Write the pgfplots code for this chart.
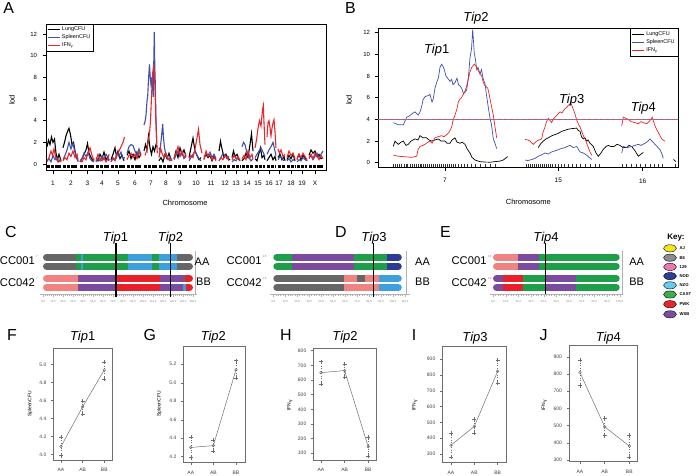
\documentclass[border=0pt]{standalone}
\usepackage{pgfplots}
\pgfplotsset{compat=1.18}
\usepackage{fontspec}
\setmainfont{Liberation Sans}
\definecolor{rblue}{HTML}{3F51A8}
\definecolor{rred}{HTML}{E8262B}
\definecolor{cgray}{HTML}{666666}
\definecolor{cgreen}{HTML}{1F9E4A}
\definecolor{cltblue}{HTML}{3D9FDB}
\definecolor{cpink}{HTML}{F08282}
\definecolor{cpurple}{HTML}{7A4B9F}
\definecolor{cred}{HTML}{E8202A}
\definecolor{cnavy}{HTML}{2C3C94}
\definecolor{kAJ}{HTML}{F4E41C}
\definecolor{kB6}{HTML}{8C8C8C}
\definecolor{kot}{HTML}{E97BB3}
\definecolor{kNOD}{HTML}{2E3D96}
\definecolor{kNZO}{HTML}{66CCEA}
\definecolor{kCAST}{HTML}{3DAE4B}
\definecolor{kPWK}{HTML}{E8262A}
\definecolor{kWSB}{HTML}{7B4CA0}
\definecolor{effgray}{HTML}{6E6E6E}
\newcommand{\fs}[1]{\fontsize{#1}{#1}\selectfont}
\newcommand{\seg}[4]{\addplot[#1, line width=7bp, line cap=butt, forget plot] coordinates {(#2,#4) (#3,#4)};}
\newcommand{\rcap}[4]{\addplot[#1, line width=7bp, line cap=round, forget plot] coordinates {(#2,#4) (#3,#4)};}
\newcommand{\tip}[1]{\textit{Tip}#1}
\pgfplotsset{
  rplot/.style={scale only axis, anchor=north west, tick align=outside, xtick pos=left, ytick pos=left,
    major tick length=3.5bp, tick style={black, line width=0.5bp}, axis line style={line width=0.5bp},
    /pgf/number format/assume math mode=true, unbounded coords=jump, legend cell align=left,
    legend image code/.code={\draw[##1, line width=1bp] (0bp,0bp) -- (12bp,0bp);}},
  eff/.style={scale only axis, anchor=north west, tick align=outside, xtick pos=left, ytick pos=left,
    major tick length=2.5bp, tick style={effgray, line width=0.4bp}, axis line style={effgray, line width=0.5bp},
    ticklabel style={font=\fs{5}, text=black!75}, /pgf/number format/assume math mode=true,
    xtick={1,2,3}, xticklabels={AA,AB,BB}, xticklabel style={yshift=-2bp}, yticklabel style={xshift=-1bp},
    unbounded coords=jump, clip=false},
  bars/.style={scale only axis, anchor=north west, ymin=-294, ymax=-250, axis x line*=bottom, axis y line=none,
    x axis line style={gray!60, line width=0.4bp}, tick style={gray!60, line width=0.3bp},
    major tick length=3bp, minor tick length=1.8bp, tick align=outside, minor x tick num=4,
    xticklabel style={font=\fs{2.8}, text=gray, /pgf/number format/fixed, /pgf/number format/fixed zerofill, /pgf/number format/precision=1},
    /pgf/number format/assume math mode=true, clip=false},
  effm/.style={effgray, line width=0.5bp, mark=o, mark size=1.3bp, mark options={solid}},
  effse/.style={effgray, line width=0.5bp, dotted, mark=+, mark size=2bp, mark options={solid}},
}
\begin{document}
\begin{tikzpicture}
\path[use as bounding box] (0bp,0bp) rectangle (696bp,-476bp);
% panel letters
\foreach \l/\x/\y in {A/3.3/13.5, B/345/13.5, C/5/237, D/335/237, E/440/237, F/7/340, G/143.3/340, H/280/340, I/411.7/340, J/539.5/340}
  \node[anchor=base west, inner sep=0, font=\fs{16}] at (\x bp,-\y bp) {\l};

% ================= A =================
\begin{axis}[rplot, at={(46bp,-24bp)}, width=280bp, height=146bp,
  xmin=46, xmax=326, ymin=-0.55, ymax=12.93, ytick={0,2,4,6,8,10,12},
  xtick={53,71,87.5,102,118,135,151,166,180,196,211,225,236,247,258,269,279,291,302,315},
  xticklabels={1,2,3,4,5,6,7,8,9,10,11,12,13,14,15,16,17,18,19,X},
  yticklabel style={font=\fs{6}, xshift=-2bp}, xticklabel style={font=\fs{6.5}, yshift=-4bp},
  legend style={at={(0,1)}, anchor=north west, draw=black, line width=0.4bp, font=\fs{5.5}, inner sep=0.8bp, row sep=-1.5bp, fill=white}]
\addplot[black, line width=1.1bp] coordinates {
(47,1.6)(48.5,2.2)(50,1.8)(51.5,2.5)(53,2.0)(54.5,2.3)(56,1.0)(57.5,0.4)(59,0.9)(61,0.3)(62,nan)
(63,1.5)(64.5,2.0)(66,2.6)(67.5,3.0)(69,3.3)(70.5,2.7)(72,1.8)(73.5,2.0)(75,1.2)(76.5,0.6)(78,0.3)(79,nan)
(80,0.2)(82,0.5)(84,0.9)(86,1.3)(87.5,1.9)(89,1.0)(91,0.6)(93,0.3)(94,0.5)(95,nan)
(96,0.6)(98,0.3)(100,0.9)(102,0.5)(104,1.1)(106,0.4)(108,0.7)(109,0.3)(110,nan)
(111,0.4)(113,0.9)(115,1.5)(116.5,0.7)(118,1.2)(120,0.5)(122,0.8)(124,0.3)(125,nan)
(127,0.8)(129,1.2)(131,0.5)(133,0.9)(135,0.4)(137,1.1)(139,0.6)(141,0.9)(142,nan)
(144,1.2)(145.5,1.8)(147,1.3)(148.5,2.6)(150,1.5)(151.5,0.9)(153,1.6)(154.5,1.2)(156,1.8)(157,1.6)(158,nan)
(159,0.3)(161,0.6)(163,0.2)(165,0.9)(167,0.5)(169,1.0)(171,0.4)(172.5,nan)
(174,0.5)(176,1.2)(178,0.6)(180,1.5)(182,0.9)(184,1.3)(186,0.7)(187.5,nan)
(189,0.6)(191,1.5)(193,2.4)(195,1.2)(197,0.8)(199,0.4)(201,0.6)(202.5,nan)
(204,0.5)(206,0.9)(208,0.6)(210,0.8)(212,0.3)(214,0.7)(216,0.4)(217.5,nan)
(219,1.2)(220.5,2.1)(222,1.4)(224,0.6)(226,0.9)(228,0.5)(230,0.4)(231,nan)
(232,0.6)(233.5,1.2)(235,0.7)(237,0.9)(239,0.4)(240,0.3)(241,nan)
(242,0.3)(244,0.5)(246,1.0)(248,0.6)(250,1.8)(251.5,2.8)(253,1.2)(254,nan)
(255,0.5)(257,0.3)(259,1.0)(260.5,1.5)(262,0.6)(264,0.8)(265,0.4)(266,nan)
(267,0.3)(269,0.6)(271,0.9)(273,0.4)(275,0.7)(276,0.3)(277,nan)
(278,0.6)(280,0.9)(282,0.4)(284,0.7)(285,0.3)(286,nan)
(287,0.4)(289,0.8)(291,0.5)(293,0.9)(295,0.3)(296,nan)
(297,0.5)(299,0.9)(301,0.4)(303,0.8)(305,0.6)(307,0.3)(308,nan)
(309,0.8)(311,1.3)(313,1.0)(315,1.2)(317,0.7)(319,0.9)(321,0.5)(323,0.6)};
\addlegendentry{LungCFU}
\addplot[rblue, line width=1.1bp] coordinates {
(47,0.3)(49,0.5)(51,0.2)(53,0.8)(55,0.4)(57,0.6)(59,0.2)(61,0.4)(62,nan)
(63,0.4)(65,0.8)(67,1.3)(69,2.0)(71,1.4)(73,1.9)(75,1.1)(77,0.5)(78,0.2)(79,nan)
(80,0.3)(82,0.5)(84,1.0)(86,0.7)(88,1.1)(90,0.5)(92,0.3)(94,0.2)(95,nan)
(96,0.2)(98,0.5)(100,0.3)(102,0.7)(104,0.4)(106,0.9)(108,0.6)(109,0.4)(110,nan)
(111,0.2)(113,0.6)(115,0.4)(117,1.0)(119,0.7)(121,1.1)(123,0.5)(125,0.6)(126,nan)
(127,1.0)(129,1.6)(131,1.8)(133,1.7)(135,1.2)(137,0.8)(139,1.4)(141,0.9)(142,nan)
(144,3.6)(145,3.9)(146,4.5)(147,5.8)(147.7,6.3)(148.5,7.8)(149.5,9.2)(150.3,7.9)(151,7.3)(151.8,8.0)(152.5,7.2)(153.2,6.2)(153.8,9.5)(154.3,12.2)(154.8,9.0)(155.3,7.5)(156,4.0)(156.7,2.0)(158,nan)
(159,1.5)(160,1.2)(161,2.1)(162,3.0)(162.7,3.7)(163.5,2.4)(164.5,1.5)(166,0.8)(168,0.4)(170,0.6)(172,0.3)(172.5,nan)
(174,0.4)(176,0.8)(178,1.2)(180,0.7)(182,1.0)(184,0.5)(186,0.7)(187.5,nan)
(189,0.3)(191,0.6)(193,0.9)(195,1.2)(197,0.8)(199,0.5)(201,0.3)(202.5,nan)
(204,0.6)(206,1.0)(208,0.8)(210,1.1)(212,0.6)(214,0.9)(216,0.5)(217.5,nan)
(219,0.3)(221,0.6)(223,1.0)(225,0.8)(227,0.5)(229,0.7)(231,nan)
(232,0.2)(234,0.4)(236,0.3)(238,0.6)(240,0.4)(241,nan)
(242,1.6)(243.5,2.0)(245,1.8)(247,1.0)(249,0.6)(251,0.3)(253,0.5)(254,nan)
(255,0.6)(257,0.9)(259,1.2)(261,1.5)(263,1.1)(265,0.7)(266,nan)
(267,0.9)(269,1.3)(271,1.6)(273,2.0)(274.5,1.4)(276,0.8)(277,nan)
(278,0.4)(280,0.7)(282,0.5)(284,0.3)(286,nan)
(287,0.3)(289,0.5)(291,0.2)(293,0.4)(295,0.3)(296,nan)
(297,0.2)(299,0.4)(301,0.3)(303,0.6)(305,0.4)(307,0.3)(308,nan)
(309,0.5)(311,0.8)(313,0.4)(315,0.7)(317,1.0)(319,0.6)(321,0.9)(323,1.2)};
\addlegendentry{SpleenCFU}
\addplot[rred, line width=1.1bp] coordinates {
(47,0.2)(49,0.6)(51,1.2)(52.5,0.8)(54,1.4)(56,0.5)(58,0.2)(60,0.4)(61,0.2)(62,nan)
(63,0.3)(65,0.6)(67,0.4)(69,1.0)(71,0.7)(73,1.2)(75,0.6)(77,0.9)(78,0.4)(79,nan)
(80,0.3)(82,0.2)(84,0.6)(86,0.4)(88,1.0)(90,1.5)(92,0.8)(94,0.3)(95,nan)
(96,0.3)(98,0.9)(100,0.5)(102,0.3)(104,0.6)(106,0.2)(108,0.5)(109,0.9)(110,nan)
(111,0.2)(113,0.5)(115,0.3)(117,0.8)(119,1.2)(121,1.6)(123,2.0)(124.5,2.5)(126,nan)
(127,0.4)(129,0.8)(131,1.0)(133,0.6)(135,0.9)(137,0.5)(139,1.1)(141,0.7)(142,nan)
(145,0.8)(146.5,1.2)(148,2.0)(149.5,2.8)(150.5,4.0)(151.5,6.2)(152.5,8.3)(153.5,9.0)(154.3,8.5)(155,7.0)(155.7,4.5)(156.5,2.5)(157.3,1.0)(158,nan)
(159,0.6)(160.5,1.5)(162,1.0)(164,0.6)(166,1.0)(168,0.5)(170,0.3)(172,0.5)(172.5,nan)
(174,0.5)(176,1.0)(178,1.6)(180,0.8)(182,1.2)(184,0.6)(186,0.9)(187.5,nan)
(189,0.5)(191,0.8)(193,0.6)(195,1.4)(197,2.4)(198.5,3.2)(200,1.8)(202,1.0)(202.5,nan)
(204,0.4)(206,1.2)(208,0.7)(210,0.9)(212,0.4)(214,0.6)(216,0.3)(217.5,nan)
(219,0.3)(221,0.6)(223,0.4)(225,0.8)(227,0.6)(229,0.3)(231,nan)
(232,0.4)(234,0.8)(236,0.5)(238,0.7)(240,0.3)(241,nan)
(242,0.5)(244,0.8)(246,0.4)(248,1.2)(250,0.6)(252,0.9)(253,0.5)(254,nan)
(255,1.5)(256.5,2.2)(258,3.3)(259.5,4.0)(261,3.5)(262.5,5.0)(263.3,5.4)(264,3.8)(265,1.8)(266,nan)
(267,2.5)(268,3.8)(269,4.0)(270,3.4)(271,2.6)(272,3.3)(273,3.8)(274,4.1)(275,3.0)(276,1.5)(277,nan)
(278,1.4)(279.5,1.0)(281,1.3)(283,0.7)(285,0.9)(286,nan)
(287,0.6)(289,1.2)(291,0.8)(293,1.0)(295,0.5)(296,nan)
(297,0.4)(299,0.9)(301,0.6)(303,1.0)(305,0.7)(307,0.4)(308,nan)
(309,0.6)(311,0.9)(313,0.5)(315,1.0)(317,0.7)(319,0.4)(321,0.8)(323,0.5)};
\addlegendentry{IFN\textsubscript{γ}}
\addplot[black, line width=2.6bp, dash pattern=on 3bp off 0.8bp, forget plot] coordinates {
(47,-0.25)(61,-0.25)(62,nan)(63,-0.25)(78,-0.25)(79,nan)(80,-0.25)(94,-0.25)(95,nan)(96,-0.25)(109,-0.25)(110,nan)
(111,-0.25)(125,-0.25)(126,nan)(127,-0.25)(141,-0.25)(142,nan)(144,-0.25)(157,-0.25)(158,nan)(159,-0.25)(172,-0.25)(172.5,nan)
(174,-0.25)(187,-0.25)(187.5,nan)(189,-0.25)(202,-0.25)(202.5,nan)(204,-0.25)(217,-0.25)(217.5,nan)(219,-0.25)(230,-0.25)(231,nan)
(232,-0.25)(240,-0.25)(241,nan)(242,-0.25)(253,-0.25)(254,nan)(255,-0.25)(265,-0.25)(266,nan)(267,-0.25)(276,-0.25)(277,nan)
(278,-0.25)(285,-0.25)(286,nan)(287,-0.25)(295,-0.25)(296,nan)(297,-0.25)(307,-0.25)(308,nan)(309,-0.25)(323,-0.25)};
\end{axis}
\node[font=\fs{7.5}] at (185bp,-203bp) {Chromosome};
\node[font=\fs{7.5}, rotate=90] at (12bp,-100bp) {lod};

% ================= B =================
\begin{axis}[rplot, at={(378bp,-28.3bp)}, width=300bp, height=139.2bp,
  xmin=378, xmax=678, ymin=-0.44, ymax=12.41, ytick={0,2,4,6,8,10,12},
  xtick={445,558.3,642.7}, xticklabels={7,15,16},
  yticklabel style={font=\fs{6}, xshift=-1bp}, xticklabel style={font=\fs{6.5}, yshift=-4bp},
  legend style={at={(1,1)}, anchor=north east, draw=black, line width=0.4bp, font=\fs{5.5}, inner sep=1.2bp, row sep=-1.2bp, fill=white}]
\addplot[black, line width=0.7bp] coordinates {
(393.3,1.5)(395,2.0)(398.3,1.7)(401,1.9)(403.3,2.0)(406,1.6)(408.3,1.7)(411,2.0)(415,2.2)(418,2.1)(420,2.5)(423,2.3)(426.7,2.3)(429,2.1)(431.7,2.0)(435,2.1)(438.3,2.2)(441,2.0)(445,2.0)(447,1.8)(450,1.8)(452,2.1)(455,2.3)(457,1.9)(460,1.8)(462,1.9)(465,1.7)(467,1.3)(470,0.9)(472,0.5)(475,0.25)(480,0.1)(485,0.06)(490,0.05)(495,0.1)(500,0.15)(503.3,0.25)(507.7,0.57)(509,nan)
(538.3,1.4)(541,1.8)(543.3,2.0)(546,2.2)(548.3,2.3)(552,2.5)(555,2.6)(558,2.7)(561.7,2.9)(565,3.0)(568.3,3.1)(572,3.15)(576.7,3.2)(578,3.0)(580,2.9)(581.5,2.4)(583.3,2.2)(585,2.3)(586.7,2.0)(588,2.1)(590,1.8)(593.3,1.5)(596,0.9)(598.3,0.6)(601,0.9)(603,1.2)(606,1.5)(608.3,1.6)(611,1.5)(614,1.5)(617,1.7)(620,1.6)(623,1.4)(626.7,1.4)(629,1.6)(631.7,1.5)(635,1.1)(638.3,0.6)(641,0.8)(643.3,0.95)(645,nan)
(673.5,0.3)(676,0.1)};
\addlegendentry{LungCFU}
\addplot[rblue, line width=0.7bp] coordinates {
(393.3,3.7)(396,3.6)(398.3,3.5)(403.3,3.5)(406.7,4.2)(409,4.3)(411.7,4.5)(415,4.7)(418.3,4.4)(420,4.7)(421.7,5.2)(423,5.8)(425,6.1)(428,6.2)(430,6.3)(432,5.6)(433.3,5.9)(435,6.9)(437,7.5)(438.3,7.8)(440,8.8)(441.7,9.1)(443,8.9)(444.3,8.6)(446,8.0)(447.7,7.8)(450,7.5)(451.7,7.7)(453,7.2)(455,7.4)(457,7.8)(458.5,7.2)(460,7.1)(462,6.8)(463.3,6.4)(465,6.5)(466.7,6.7)(468.5,8.0)(470,9.7)(471.5,10.5)(472.7,12.3)(474.3,10.1)(475.5,9.5)(476.7,8.6)(478,8.8)(480,8.2)(481.5,8.6)(483.3,7.7)(485,7.3)(486.7,6.1)(488.5,5.0)(490,4.1)(491.5,3.5)(493.3,2.2)(495,1.8)(496.7,1.3)(498,nan)
(525,0.25)(528,0.2)(531.7,0.3)(535,0.4)(538.3,0.6)(541,0.7)(545,0.9)(548,0.8)(551.7,1.0)(555,1.1)(558.3,1.2)(561,1.3)(565,1.4)(567,1.5)(570,1.6)(573.3,1.4)(576.7,1.5)(578,1.3)(580,1.0)(583.3,0.9)(586.7,0.7)(589,0.5)(591.7,0.3)(593,nan)
(621.7,0.9)(623.3,1.5)(627,1.4)(631.7,1.5)(635,1.6)(638.3,1.7)(641,1.6)(645,1.8)(648,2.0)(650,2.2)(652,2.0)(655,1.7)(657,1.5)(660,1.2)(662,0.8)(663.3,0.4)};
\addlegendentry{SpleenCFU}
\addplot[rred, line width=0.7bp] coordinates {
(393.3,0.7)(398.3,0.6)(405,0.55)(411.7,0.5)(416.7,0.6)(418,1.2)(420,1.5)(423,1.6)(425,1.7)(428,1.9)(430,2.0)(432,1.8)(435,2.3)(438,2.4)(441.7,2.5)(444,2.4)(446.7,2.6)(449,2.8)(451.7,3.3)(453,3.9)(455,4.4)(457,5.0)(458.3,5.6)(460,5.9)(461.5,6.0)(463.3,6.3)(465,6.6)(466.7,7.1)(468.5,7.8)(470,8.4)(471.7,8.8)(474.3,9.1)(476,8.9)(477.7,8.6)(479.5,8.3)(481.7,8.0)(483.3,7.4)(485,7.1)(486.5,7.0)(487.7,6.9)(489,6.4)(490,5.9)(491.5,5.2)(493.3,4.4)(495,3.3)(496.7,2.3)(498,nan)
(525,2.15)(528,2.1)(530,2.0)(533.3,1.7)(536.7,2.0)(539,2.1)(541.7,2.2)(543,2.8)(545,3.3)(546.5,3.8)(548.3,4.1)(550,3.9)(551.7,3.7)(553,4.0)(555,4.2)(557,4.4)(560,4.7)(562,4.6)(565,5.0)(566.5,5.1)(568.3,5.3)(570,5.4)(571,5.5)(573,5.0)(575,4.5)(576.5,4.0)(578.3,3.6)(580,3.3)(581.7,2.9)(583.3,2.5)(585,2.2)(586.7,1.8)(588.3,1.4)(590,1.0)(591.7,0.7)(593,nan)
(621.7,3.4)(623.3,4.2)(626,4.1)(628.3,4.0)(631,3.8)(635,3.7)(638.3,3.6)(641,3.8)(643.3,3.7)(646.7,3.6)(648,3.7)(650,3.9)(652.3,4.2)(653.5,3.8)(655,3.4)(656.5,3.1)(658.3,2.8)(660,2.5)(661.7,2.2)(663,2.1)(665,2.0)};
\addlegendentry{IFN\textsubscript{γ}}
\addplot[rred!85, line width=1bp, dash pattern=on 3bp off 3bp, forget plot] coordinates {(378,4.02)(678,4.02)};
\addplot[rblue!75, line width=1bp, dash pattern=on 3bp off 3bp, dash phase=3bp, forget plot] coordinates {(378,4.02)(678,4.02)};
\addplot[only marks, mark=|, mark size=1.6bp, black!80, mark options={line width=0.3bp}, forget plot] coordinates {
(393,-0.22)(395,-0.22)(397,-0.22)(399.5,-0.22)(401,-0.22)(404,-0.22)(406,-0.22)(407.5,-0.22)(410,-0.22)(412,-0.22)(414,-0.22)(416,-0.22)(418,-0.22)(420,-0.22)(421.5,-0.22)(423,-0.22)(425,-0.22)(427,-0.22)(429,-0.22)(431,-0.22)(433,-0.22)(435,-0.22)(437,-0.22)(439,-0.22)(441,-0.22)(443,-0.22)(445,-0.22)(447,-0.22)(449,-0.22)(451,-0.22)(453,-0.22)(455,-0.22)(458,-0.22)(461,-0.22)(464,-0.22)(467,-0.22)(471,-0.22)(475,-0.22)(480,-0.22)(485,-0.22)(490,-0.22)(495,-0.22)
(526,-0.22)(528,-0.22)(530,-0.22)(532,-0.22)(534,-0.22)(536,-0.22)(538,-0.22)(540,-0.22)(542,-0.22)(544,-0.22)(546,-0.22)(548,-0.22)(550,-0.22)(552,-0.22)(555,-0.22)(558,-0.22)(561,-0.22)(564,-0.22)(568,-0.22)(572,-0.22)(576,-0.22)(580,-0.22)(585,-0.22)(590,-0.22)(595,-0.22)(599,-0.22)
(622,-0.22)(626,-0.22)(631,-0.22)(636,-0.22)(640,-0.22)(645,-0.22)(650,-0.22)(654,-0.22)(658,-0.22)(662,-0.22)(675,-0.22)};
\end{axis}
\node[font=\fs{7.5}] at (528.3bp,-202.3bp) {Chromosome};
\node[font=\fs{7.5}, rotate=90] at (349bp,-100bp) {lod};
\node[anchor=base, font=\fs{13}] at (436.7bp,-53bp) {\tip{1}};
\node[anchor=base, font=\fs{13}] at (476bp,-21bp) {\tip{2}};
\node[anchor=base, font=\fs{13}] at (571.7bp,-103bp) {\tip{3}};
\node[anchor=base, font=\fs{13}] at (643.3bp,-111bp) {\tip{4}};

% ================= C =================
\begin{axis}[bars, at={(40bp,-250bp)}, width=157bp, height=44bp, xmin=-3, xmax=154, xtick={0,10,...,150}]
\foreach \yy in {-257,-266}{
\seg{cgray}{3.5}{33}{\yy}
\seg{cgreen}{33}{85.3}{\yy}
\seg{cltblue}{38}{39.5}{\yy}
\seg{cltblue}{85.3}{108.7}{\yy}
\seg{cgreen}{108.7}{116.3}{\yy}
\seg{cltblue}{116.3}{133.7}{\yy}
\seg{cgray}{133.7}{146.5}{\yy}
\rcap{cgray}{3.5}{3.7}{\yy}
\rcap{cgray}{146.3}{146.5}{\yy}
}
\seg{cpink}{3.5}{35.3}{-278.5}
\seg{cpurple}{35.3}{73.7}{-278.5}
\seg{cred}{73.7}{117}{-278.5}
\seg{cpurple}{117}{140.5}{-278.5}
\seg{cgray}{140.5}{142}{-278.5}
\seg{cred}{142}{146.5}{-278.5}
\rcap{cpink}{3.5}{3.7}{-278.5}
\rcap{cred}{146.3}{146.5}{-278.5}
\seg{cpink}{3.5}{35.3}{-287.5}
\seg{cpurple}{35.3}{73.7}{-287.5}
\seg{cred}{73.7}{117}{-287.5}
\seg{cpurple}{117}{139.5}{-287.5}
\seg{cltblue}{139.5}{142.5}{-287.5}
\seg{cred}{142.5}{146.5}{-287.5}
\rcap{cpink}{3.5}{3.7}{-287.5}
\rcap{cred}{146.3}{146.5}{-287.5}
\addplot[gray!60, line width=0.4bp, forget plot] coordinates {(152,-251)(152,-294)};
\addplot[black, line width=1.2bp, forget plot] coordinates {(73,-243)(73,-297)};
\addplot[black, line width=1.2bp, forget plot] coordinates {(127.3,-243)(127.3,-297)};
\end{axis}
\node[anchor=base, font=\fs{13}] at (115.5bp,-241bp) {\tip{1}};
\node[anchor=base, font=\fs{13}] at (170.5bp,-241bp) {\tip{2}};
\node[anchor=east, inner sep=0, font=\fs{11.25}] at (35bp,-261bp) {CC001};
\node[anchor=east, inner sep=0, font=\fs{11.25}] at (35bp,-283bp) {CC042};
\node[anchor=west, inner sep=0, font=\fs{3}, text=gray] at (36bp,-256bp) {7};
\node[anchor=west, inner sep=0, font=\fs{3}, text=gray] at (36bp,-278bp) {7};
\node[font=\fs{11}] at (202bp,-262bp) {AA};
\node[font=\fs{11}] at (203.5bp,-282bp) {BB};

% ================= D =================
\begin{axis}[bars, at={(270bp,-250bp)}, width=140bp, height=44bp, xmin=-2.76, xmax=114.2, xtick={0,10,...,110}]
\foreach \yy in {-257,-266}{
\seg{cgreen}{2.92}{15.4}{\yy}
\seg{cpurple}{15.4}{67.7}{\yy}
\seg{cgreen}{67.7}{94.7}{\yy}
\seg{cnavy}{94.7}{104.4}{\yy}
\rcap{cgreen}{2.92}{3.1}{\yy}
\rcap{cnavy}{104.2}{104.4}{\yy}
}
\seg{cgray}{2.92}{59.2}{-278.5}
\seg{cpink}{59.2}{69.8}{-278.5}
\seg{cgray}{69.8}{76.8}{-278.5}
\seg{cpink}{76.8}{88.7}{-278.5}
\seg{cltblue}{88.7}{104.4}{-278.5}
\rcap{cgray}{2.92}{3.1}{-278.5}
\rcap{cltblue}{104.2}{104.4}{-278.5}
\seg{cgray}{2.92}{59.2}{-287.5}
\seg{cpink}{59.2}{88.7}{-287.5}
\seg{cltblue}{88.7}{104.4}{-287.5}
\rcap{cgray}{2.92}{3.1}{-287.5}
\rcap{cltblue}{104.2}{104.4}{-287.5}
\addplot[gray!60, line width=0.4bp, forget plot] coordinates {(110.9,-251)(110.9,-294)};
\addplot[black, line width=1.2bp, forget plot] coordinates {(83.5,-243)(83.5,-297)};
\end{axis}
\node[anchor=base, font=\fs{13}] at (374bp,-241bp) {\tip{3}};
\node[anchor=east, inner sep=0, font=\fs{11.25}] at (261.7bp,-261bp) {CC001};
\node[anchor=east, inner sep=0, font=\fs{11.25}] at (261.7bp,-283bp) {CC042};
\node[anchor=west, inner sep=0, font=\fs{3}, text=gray] at (263bp,-256bp) {15};
\node[anchor=west, inner sep=0, font=\fs{3}, text=gray] at (263bp,-278bp) {15};
\node[font=\fs{11}] at (422.5bp,-262bp) {AA};
\node[font=\fs{11}] at (422.5bp,-282bp) {BB};

% ================= E =================
\begin{axis}[bars, at={(490bp,-250bp)}, width=133bp, height=44bp, xmin=-2.37, xmax=102.6, xtick={0,10,...,100}]
\foreach \yy in {-257,-266}{
\seg{cpink}{2.76}{20}{\yy}
\seg{cpurple}{20}{36.3}{\yy}
\seg{cgreen}{36.3}{97.24}{\yy}
\rcap{cpink}{2.76}{2.96}{\yy}
\rcap{cgreen}{97.04}{97.24}{\yy}
}
\foreach \yy in {-278.5,-287.5}{
\seg{cpurple}{2.76}{8.2}{\yy}
\seg{cred}{8.2}{24}{\yy}
\seg{cgreen}{24}{41.2}{\yy}
\seg{cpurple}{41.2}{65.7}{\yy}
\seg{cgreen}{65.7}{97.24}{\yy}
\rcap{cpurple}{2.76}{2.96}{\yy}
\rcap{cgreen}{97.04}{97.24}{\yy}
}
\addplot[gray!60, line width=0.4bp, forget plot] coordinates {(101.8,-251)(101.8,-294)};
\addplot[black, line width=1.2bp, forget plot] coordinates {(41.6,-243)(41.6,-294)};
\end{axis}
\node[anchor=base, font=\fs{13}] at (546bp,-241bp) {\tip{4}};
\node[anchor=east, inner sep=0, font=\fs{11.25}] at (486.7bp,-261bp) {CC001};
\node[anchor=east, inner sep=0, font=\fs{11.25}] at (486.7bp,-283bp) {CC042};
\node[anchor=west, inner sep=0, font=\fs{3}, text=gray] at (488bp,-256bp) {16};
\node[anchor=west, inner sep=0, font=\fs{3}, text=gray] at (488bp,-278bp) {16};
\node[font=\fs{11}] at (636.7bp,-262bp) {AA};
\node[font=\fs{11}] at (636.7bp,-282bp) {BB};

% ================= Key =================
\node[font=\fs{8}\bfseries] at (676bp,-238bp) {Key:};
\begin{axis}[at={(660bp,-243bp)}, anchor=north west, scale only axis, width=20bp, height=76bp, xmin=0, xmax=1, ymin=-319, ymax=-243, hide axis, clip=false]
\addplot[only marks, mark=*, mark size=3.6bp, mark options={draw=none, fill=kAJ, xscale=1.8}] coordinates {(0.5,-248.3)};
\addplot[only marks, mark=*, mark size=3.6bp, mark options={draw=none, fill=kB6, xscale=1.8}] coordinates {(0.5,-257.7)};
\addplot[only marks, mark=*, mark size=3.6bp, mark options={draw=none, fill=kot, xscale=1.8}] coordinates {(0.5,-266.9)};
\addplot[only marks, mark=*, mark size=3.6bp, mark options={draw=none, fill=kNOD, xscale=1.8}] coordinates {(0.5,-276.1)};
\addplot[only marks, mark=*, mark size=3.6bp, mark options={draw=none, fill=kNZO, xscale=1.8}] coordinates {(0.5,-285.3)};
\addplot[only marks, mark=*, mark size=3.6bp, mark options={draw=none, fill=kCAST, xscale=1.8}] coordinates {(0.5,-294.5)};
\addplot[only marks, mark=*, mark size=3.6bp, mark options={draw=none, fill=kPWK, xscale=1.8}] coordinates {(0.5,-304.2)};
\addplot[only marks, mark=*, mark size=3.6bp, mark options={draw=none, fill=kWSB, xscale=1.8}] coordinates {(0.5,-314.3)};
\end{axis}
\foreach \t/\y in {AJ/248.3, B6/257.7, 129/266.9, NOD/276.1, NZO/285.3, CAST/294.5, PWK/304.2, WSB/314.3}
  \node[anchor=west, inner sep=0, font=\fs{4.2}\bfseries] at (679.5bp,-\y bp) {\t};

% ================= F =================
\begin{axis}[eff, at={(53.3bp,-348.3bp)}, width=59.4bp, height=111.7bp, xmin=0.645, xmax=3.39, ymin=3.94, ymax=5.18,
  ytick={4.0,4.2,4.4,4.6,4.8,5.0}, yticklabel style={/pgf/number format/fixed, /pgf/number format/fixed zerofill, /pgf/number format/precision=1}]
\addplot[effse] coordinates {(1,3.99)(1,4.19)(1.5,nan)(2,4.45)(2,4.59)(2.5,nan)(3,4.84)(3,5.03)};
\addplot[effm] coordinates {(1,4.09)(2,4.53)(3,4.94)};
\end{axis}
\node[anchor=base, font=\fs{13}] at (82.7bp,-340bp) {\tip{1}};
\node[rotate=90, font=\fs{5}] at (30bp,-404bp) {SpleenCFU};

% ================= G =================
\begin{axis}[eff, at={(183.3bp,-346.7bp)}, width=61.7bp, height=116bp, xmin=0.67, xmax=3.4, ymin=4.135, ymax=5.39,
  ytick={4.2,4.4,4.6,4.8,5.0,5.2}, yticklabel style={/pgf/number format/fixed, /pgf/number format/fixed zerofill, /pgf/number format/precision=1}]
\addplot[effse] coordinates {(1,4.19)(1,4.41)(1.5,nan)(2,4.26)(2,4.38)(2.5,nan)(3,5.05)(3,5.24)};
\addplot[effm] coordinates {(1,4.30)(2,4.32)(3,5.14)};
\end{axis}
\node[anchor=base, font=\fs{13}] at (213.3bp,-340bp) {\tip{2}};
\node[rotate=90, font=\fs{5}] at (159.3bp,-404bp) {SpleenCFU};

% ================= H =================
\begin{axis}[eff, at={(313.3bp,-348.3bp)}, width=62.7bp, height=111.7bp, xmin=0.675, xmax=3.33, ymin=54, ymax=816,
  ytick={100,200,...,800}]
\addplot[effse] coordinates {(1,573)(1,725)(1.5,nan)(2,620)(2,708)(2.5,nan)(3,78)(3,209)};
\addplot[effm] coordinates {(1,650)(2,664)(3,145)};
\end{axis}
\node[anchor=base, font=\fs{13}] at (345bp,-340bp) {\tip{2}};
\node[rotate=90, font=\fs{5}] at (290bp,-405bp) {IFN\textsubscript{γ}};

% ================= I =================
\begin{axis}[eff, at={(442.3bp,-346bp)}, width=63.7bp, height=116.7bp, xmin=0.627, xmax=3.36, ymin=245, ymax=984,
  ytick={300,400,...,900}]
\addplot[effse] coordinates {(1,278)(1,431)(1.5,nan)(2,430)(2,520)(2.5,nan)(3,750)(3,896)};
\addplot[effm] coordinates {(1,356)(2,475)(3,824)};
\end{axis}
\node[anchor=base, font=\fs{13}] at (475bp,-341bp) {\tip{3}};
\node[rotate=90, font=\fs{5}] at (415bp,-405bp) {IFN\textsubscript{γ}};

% ================= J =================
\begin{axis}[eff, at={(569bp,-345.7bp)}, width=68.7bp, height=116bp, xmin=0.555, xmax=3.34, ymin=290, ymax=964,
  ytick={300,400,...,900}]
\addplot[effse] coordinates {(1,732)(1,881)(1.5,nan)(2,442)(2,545)(2.5,nan)(3,316)(3,444)};
\addplot[effm] coordinates {(1,808)(2,493)(3,381)};
\end{axis}
\node[anchor=base, font=\fs{13}] at (608.3bp,-341bp) {\tip{4}};
\node[rotate=90, font=\fs{5}] at (544.5bp,-405bp) {IFN\textsubscript{γ}};
\end{tikzpicture}
\end{document}
